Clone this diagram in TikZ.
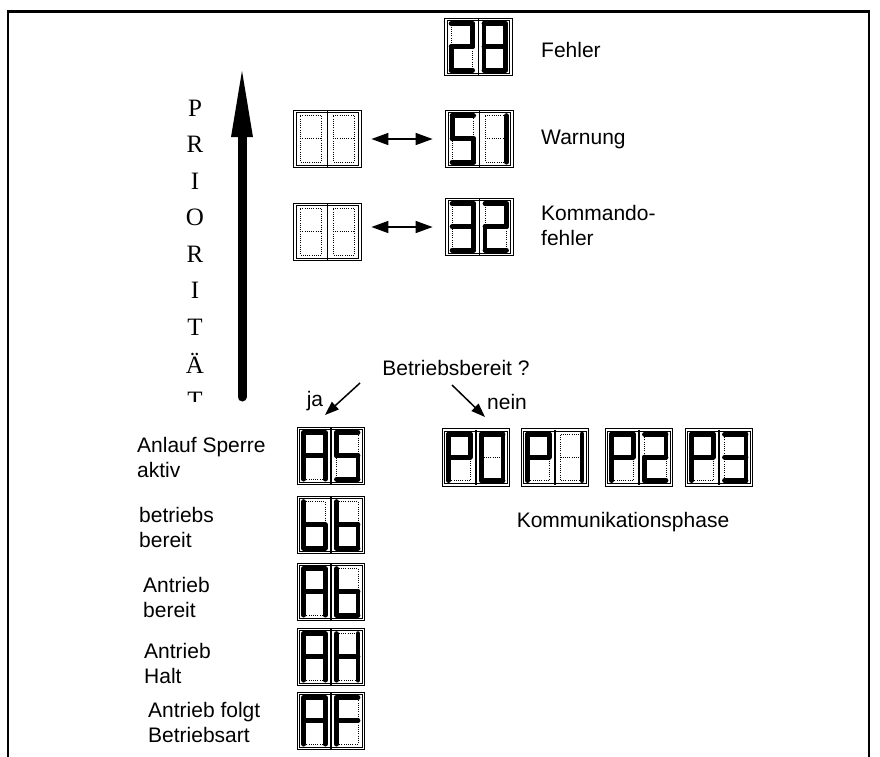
\documentclass[tikz,border=0pt]{standalone}
\usepackage{fontspec}
\setmainfont{Liberation Sans}
\newfontfamily\prioFont{Liberation Serif}
\usetikzlibrary{arrows.meta}

% lit segments of each digit, as pairs of cell corners
\def\dNone{}
\def\dOne{tr/mr,mr/br}
\def\dTwo{tl/tr,tr/mr,ml/mr,ml/bl,bl/br}
\def\dThree{tl/tr,tr/mr,ml/mr,mr/br,bl/br}
\def\dFive{tl/tr,tl/ml,ml/mr,mr/br,bl/br}
\def\dEight{tl/tr,tr/mr,mr/br,bl/br,tl/ml,ml/bl,ml/mr}
\def\dZero{tl/tr,tr/mr,mr/br,bl/br,tl/ml,ml/bl}
\def\dA{tl/tr,tr/mr,mr/br,tl/ml,ml/bl,ml/mr}
\def\db{tl/ml,ml/bl,ml/mr,mr/br,bl/br}
\def\dH{tr/mr,mr/br,tl/ml,ml/bl,ml/mr}
\def\dF{tl/tr,tl/ml,ml/bl,ml/mr}
\def\dP{tl/tr,tr/mr,tl/ml,ml/bl,ml/mr}

% one digit cell, #1 = its top left corner, #2 = lit segments
\newcommand{\segcell}[2]{%
  \begin{scope}[shift={(#1)}]
    \coordinate (tl) at (5.5,4.5);  \coordinate (tr) at (27,4.5);
    \coordinate (ml) at (5.5,27.5); \coordinate (mr) at (27,27.5);
    \coordinate (bl) at (5.5,51);   \coordinate (br) at (27,51);
    \draw[segoff] (tl) -- (tr) -- (br) -- (bl) -- cycle (ml) -- (mr);
    \ifx#2\dNone\else
      \foreach \p/\q in #2 {\draw[segon] (\p) -- (\q);}
    \fi
  \end{scope}}

% two digit display: name, centre, left digit, right digit
\newcommand{\segdisplay}[4]{%
  \node[display] (#1) at (#2) {};
  \draw[divider] (#1.north) -- (#1.south);
  \segcell{#1.north west}{#3}
  \segcell{#1.north}{#4}}

\begin{document}
\begin{tikzpicture}[x=1pt, y=-1pt,
    txt/.style={font=\fontsize{21}{25}\selectfont, inner sep=0pt, align=left},
    prio letter/.style={font=\prioFont\fontsize{25}{25}\selectfont, inner sep=0pt},
    display/.style={draw, double, double distance=1.8pt, line width=0.8pt,
      minimum width=65pt, minimum height=55pt, inner sep=0pt},
    divider/.style={line width=1.6pt},
    segoff/.style={line width=0.8pt, dash pattern=on 1pt off 1.2pt},
    segon/.style={line width=4.8pt, line cap=round},
    swap arrow/.style={line width=1.5pt,
      {Triangle[length=17pt,width=12pt]}-{Triangle[length=17pt,width=12pt]},
      shorten <=11pt, shorten >=14pt},
    choice/.style={line width=1.5pt, -{Triangle[length=14pt,width=10pt]}},
    prio arrow/.style={line width=9pt, line cap=round,
      -{Triangle[length=74pt,width=19pt]}}]
  \useasboundingbox (0,0) rectangle (880,756);

  % Draw frame
  \draw[line width=2.2pt] (8,780) -- (8,11.5) -- (869,11.5) -- (869,780);

  % Draw priority arrow
  \coordinate (prioBot) at (242,397);
  \coordinate (prioTop) at (242,63);
  \draw[prio arrow] (prioBot) -- (prioTop);
  \begin{scope}
    \clip (150,80) rectangle (235,401);
    \foreach \ch [count=\i from 0] in {P,R,I,O,R,I,T,Ä,T}
      \node[prio letter] (prio\i) at (195,108+36.5*\i) {\ch};
  \end{scope}

  % Draw error and warning displays
  \segdisplay{err}{478.5,47}{\dTwo}{\dEight}
  \node[txt, anchor=west] (errText) at (541,50) {Fehler};

  \segdisplay{warnOff}{327.5,139}{\dNone}{\dNone}
  \segdisplay{warn}{479.5,139}{\dFive}{\dOne}
  \draw[swap arrow] (warnOff) -- (warn);
  \node[txt, anchor=west] (warnText) at (541,139) {Warnung};

  \segdisplay{cmdOff}{327.5,232}{\dNone}{\dNone}
  \segdisplay{cmd}{479.5,227}{\dThree}{\dTwo}
  \draw[swap arrow] (cmdOff.east |- cmd) -- (cmd);
  \node[txt, anchor=west] (cmdText) at (541,225) {Kommando-\\fehler};

  % Draw ready question
  \node[txt] (ready) at (456,368) {Betriebsbereit ?};
  \coordinate (jaStart) at (360,383);
  \coordinate (jaTip) at (325,415);
  \coordinate (neinStart) at (452,385);
  \coordinate (neinTip) at (485,417);
  \draw[choice] (jaStart) -- (jaTip);
  \draw[choice] (neinStart) -- (neinTip);
  \node[txt] (ja) at (315,401) {ja};
  \node[txt] (nein) at (507,402) {nein};

  % Draw state displays
  \segdisplay{as}{331,456}{\dA}{\dFive}
  \segdisplay{bb}{331,525}{\db}{\db}
  \segdisplay{ab}{331,592}{\dA}{\db}
  \segdisplay{ah}{331,657}{\dA}{\dH}
  \segdisplay{af}{331,721}{\dA}{\dF}
  \node[txt, anchor=west] (asText) at (137,457) {Anlauf Sperre\\aktiv};
  \node[txt, anchor=west] (bbText) at (139,527) {betriebs\\bereit};
  \node[txt, anchor=west] (abText) at (143,597) {Antrieb\\bereit};
  \node[txt, anchor=west] (ahText) at (144,663) {Antrieb\\Halt};
  \node[txt, anchor=west] (afText) at (148,722) {Antrieb folgt\\Betriebsart};

  % Draw communication phases
  \segdisplay{p0}{476,457.5}{\dP}{\dZero}
  \segdisplay{p1}{555,457.5}{\dP}{\dOne}
  \segdisplay{p2}{639,457.5}{\dP}{\dTwo}
  \segdisplay{p3}{719,457.5}{\dP}{\dThree}
  \node[txt] (phase) at (623,522) {Kommunikationsphase};
\end{tikzpicture}
\end{document}
